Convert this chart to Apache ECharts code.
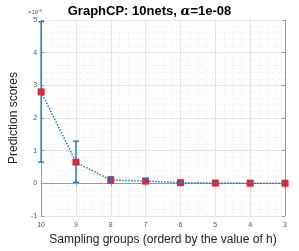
<!DOCTYPE html>
<html><head><meta charset="utf-8">
<script src="https://cdn.jsdelivr.net/npm/echarts@6/dist/echarts.min.js"></script>
<style>html,body{margin:0;padding:0;background:#fff}#c{width:299px;height:251px}</style>
</head><body><div id="c"></div>
<script>
// Data (scores in units of 1e-8)
const groups = [10, 9, 8, 7, 6, 5, 4, 3];
const means = [2.8, 0.65, 0.1, 0.07, 0.02, 0.01, 0.005, 0.003];
const errLow = [0.65, 0.03, 0.0, 0.0, 0.01, 0.005, 0.002, 0.001];
const errHigh = [4.95, 1.29, 0.2, 0.15, 0.03, 0.015, 0.008, 0.005];
const xTicks = [3, 4, 5, 6, 7, 8, 9, 10];
const yTicks = [-1, 0, 1, 2, 3, 4, 5];

const lineData = groups.map((g, i) => [g, means[i]]);
const errData = groups.map((g, i) => [g, errLow[i], errHigh[i]]);

const chart = echarts.init(document.getElementById('c'), null, {renderer: 'canvas'});
const FONT = 'Liberation Sans, Arial, sans-serif';
const axisCol = '#9a9a9a';
const gridBase = {left: 26, right: 14, top: 20, bottom: 28};

const common = {
  axisLine: {show: true, lineStyle: {color: axisCol, width: 1}},
  axisTick: {show: true, inside: true, length: 3, lineStyle: {color: axisCol}},
  minorTick: {show: false},
};

chart.setOption({
  animation: false,
  title: {
    text: '{b|GraphCP: 10nets, }{a|α}{b|=1e-08}',
    left: 'center', top: 0,
    textStyle: {rich: {
      b: {fontFamily: FONT, fontSize: 13, fontWeight: 'bold', color: '#000'},
      a: {fontFamily: 'DejaVu Serif, serif', fontSize: 13, fontStyle: 'italic', fontWeight: 'bold', color: '#000'}
    }}
  },
  grid: Object.assign({containLabel: false}, gridBase),
  xAxis: [{
    type: 'value', min: 3, max: 10, interval: 1, inverse: true,
    ...common,
    axisLabel: {fontFamily: FONT, fontSize: 7, color: '#555', margin: 6},
    splitLine: {show: true, lineStyle: {color: '#e4e4e4', width: 1}},
    minorTick: {show: false, splitNumber: 4},
    minorSplitLine: {show: true, lineStyle: {color: '#ececec', type: [1, 2], width: 1}},
    name: 'Sampling groups (orderd by the value of h)',
    nameLocation: 'middle', nameGap: 18,
    nameTextStyle: {fontFamily: FONT, fontSize: 12, color: '#222'}
  }, {
    type: 'value', min: 3, max: 10, interval: 1, inverse: true, position: 'top',
    ...common,
    axisLabel: {show: false}, splitLine: {show: false}
  }],
  yAxis: [{
    type: 'value', min: -1, max: 5, interval: 1,
    ...common,
    axisLabel: {fontFamily: FONT, fontSize: 7, color: '#555', margin: 4},
    splitLine: {show: true, lineStyle: {color: '#e4e4e4', width: 1}},
    minorTick: {show: false, splitNumber: 5},
    minorSplitLine: {show: true, lineStyle: {color: '#ececec', type: [1, 2], width: 1}},
    name: 'Prediction scores',
    nameLocation: 'middle', nameGap: 13, nameRotate: 90,
    nameTextStyle: {fontFamily: FONT, fontSize: 12, color: '#222'}
  }, {
    type: 'value', min: -1, max: 5, interval: 1, position: 'right',
    ...common,
    axisLabel: {show: false}, splitLine: {show: false}
  }],
  graphic: [{
    type: 'text', left: 28, top: 9,
    style: {
      text: '{m|×10}{s|-8}',
      rich: {
        m: {fontFamily: FONT, fontSize: 6, fill: '#555'},
        s: {fontFamily: FONT, fontSize: 4, fill: '#555', verticalAlign: 'top', padding: [0, 0, 3, 0]}
      }
    }
  }],
  series: [{
    type: 'line', data: lineData, z: 3,
    symbol: 'rect', symbolSize: 7,
    itemStyle: {color: '#ff1a1a'},
    lineStyle: {color: '#1f77c8', width: 1.5, type: [1.5, 1.5]},
  }, {
    type: 'custom', data: errData, z: 4, clip: false,
    renderItem: function (params, api) {
      const x = api.value(0);
      const lo = api.coord([x, api.value(1)]);
      const hi = api.coord([x, api.value(2)]);
      const w = 3;
      const st = {stroke: '#1f77c8', lineWidth: 1.4};
      return {type: 'group', children: [
        {type: 'line', shape: {x1: lo[0], y1: lo[1], x2: hi[0], y2: hi[1]}, style: st},
        {type: 'line', shape: {x1: lo[0] - w, y1: lo[1], x2: lo[0] + w, y2: lo[1]}, style: st},
        {type: 'line', shape: {x1: hi[0] - w, y1: hi[1], x2: hi[0] + w, y2: hi[1]}, style: st}
      ]};
    }
  }]
});
</script></body></html>
